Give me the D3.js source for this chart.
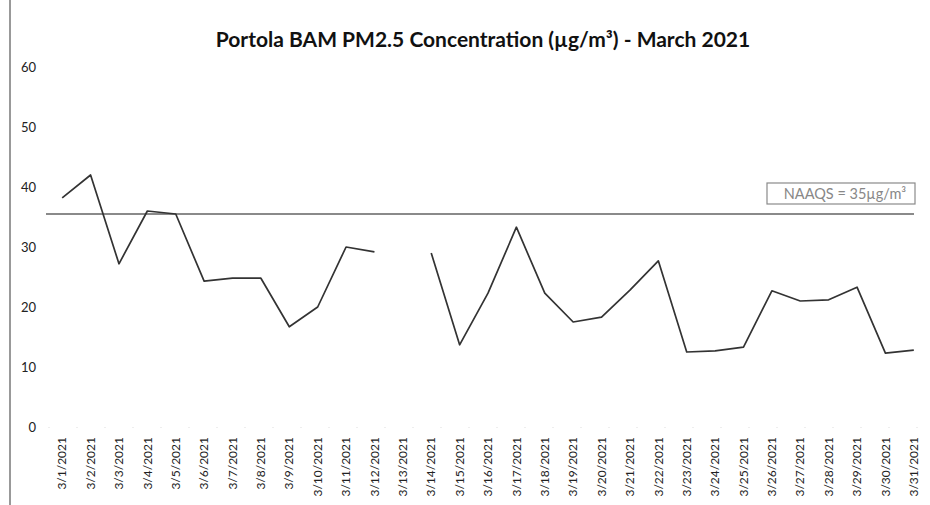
<!DOCTYPE html>
<html>
<head>
<meta charset="utf-8">
<script src="https://cdn.jsdelivr.net/npm/d3@7"></script>
<style>
  body { margin: 0; background: #fff; }
  text { font-family: Lato, "Open Sans", sans-serif; }
</style>
</head>
<body>
<script>
// daily PM2.5 readings, null = no data
var days = d3.range(1, 32).map(function(d) { return "3/" + d + "/2021"; });
var pm25 = [38.2, 42, 27.2, 36, 35.5, 24.3, 24.8, 24.8, 16.7, 20, 30, 29.2, null,
            29, 13.7, 22.3, 33.3, 22.3, 17.5, 18.3, 22.8, 27.7, 12.5, 12.7, 13.3,
            22.7, 21, 21.2, 23.3, 12.3, 12.8];
var yTicks = [0, 10, 20, 30, 40, 50, 60];
var naaqs = 35;

var width = 930, height = 505;

var svg = d3.select("body").append("svg")
    .attr("width", width)
    .attr("height", height);

var x = d3.scaleBand()
    .domain(days)
    .range([48, 928]);

var y = d3.scaleLinear()
    .domain([0, 60])
    .range([427, 67]);

// left border of the scanned chart
svg.append("line")
    .attr("x1", 10).attr("x2", 10)
    .attr("y1", 0).attr("y2", height)
    .attr("stroke", "#555")
    .attr("stroke-width", 1.2);

svg.append("text")
    .attr("x", 483)
    .attr("y", 47)
    .attr("text-anchor", "middle")
    .style("font-size", "21px")
    .style("font-weight", "bold")
    .attr("fill", "#111")
    .text("Portola BAM PM2.5 Concentration (µg/m³) - March 2021");

// y axis labels only
var yAxis = svg.append("g")
    .attr("transform", "translate(36,0)")
    .call(d3.axisLeft(y).tickValues(yTicks).tickSize(0).tickPadding(0));
yAxis.select(".domain").remove();
yAxis.selectAll("text")
    .style("font-size", "13px")
    .attr("fill", "#222");

// x axis, rotated labels
var xAxis = svg.append("g")
    .attr("transform", "translate(0," + y(0) + ")")
    .call(d3.axisBottom(x).tickSize(0));
xAxis.select(".domain").attr("stroke", "#ddd").attr("stroke-dasharray", "1,27");
xAxis.selectAll("text")
    .style("font-size", "12px")
    .attr("fill", "#222")
    .attr("text-anchor", "end")
    .attr("transform", "rotate(-90)")
    .attr("x", -10)
    .attr("y", 0)
    .attr("dy", "0.35em");

// NAAQS reference line
svg.append("line")
    .attr("x1", 46).attr("x2", 914)
    .attr("y1", y(naaqs) - 3).attr("y2", y(naaqs) - 3)
    .attr("stroke", "#8a8a8a")
    .attr("stroke-width", 2);

svg.append("rect")
    .attr("x", 767).attr("y", 183)
    .attr("width", 148).attr("height", 21)
    .attr("fill", "#fff")
    .attr("stroke", "#8a8a8a")
    .attr("stroke-width", 1.2);

svg.append("text")
    .attr("x", 845)
    .attr("y", 199)
    .attr("text-anchor", "middle")
    .style("font-size", "14.5px")
    .attr("fill", "#888")
    .text("NAAQS = 35µg/m³");

var line = d3.line()
    .defined(function(d) { return d != null; })
    .x(function(d, i) { return x(days[i]) + x.bandwidth() / 2; })
    .y(function(d) { return y(d); });

svg.append("path")
    .datum(pm25)
    .attr("fill", "none")
    .attr("stroke", "#333")
    .attr("stroke-width", 1.7)
    .attr("stroke-linejoin", "round")
    .attr("d", line);
</script>
</body>
</html>
